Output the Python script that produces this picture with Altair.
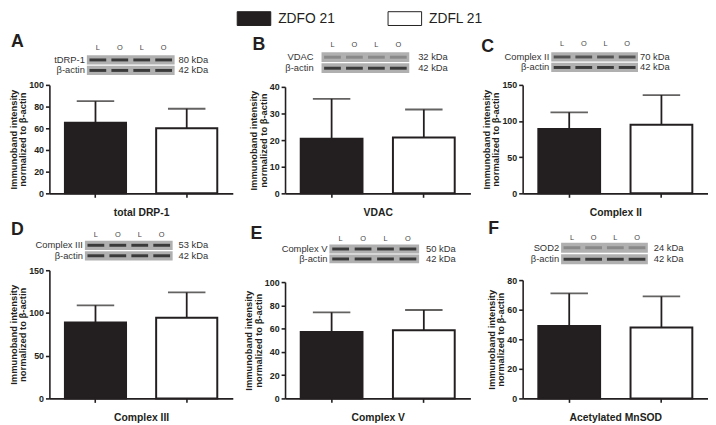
import altair as alt
import pandas as pd

# ---------------- data ----------------
groups = ["ZDFO 21", "ZDFL 21"]
letters = ["A", "B", "C", "D", "E", "F"]
titles = ["total DRP-1", "VDAC", "Complex II", "Complex III", "Complex V", "Acetylated MnSOD"]
proteins = ["tDRP-1", "VDAC", "Complex II", "Complex III", "Complex V", "SOD2"]
kda_protein = ["80 kDa", "32 kDa", "70 kDa", "53 kDa", "50 kDa", "24 kDa"]
actin_name = "β-actin"
kda_actin = "42 kDa"
lane_labels = ["L", "O", "L", "O"]

mean_zdfo = [65, 20.5, 89, 89, 57, 49]
mean_zdfl = [60, 21, 95, 94.5, 58.5, 48]
sem_zdfo = [20, 15, 23, 20, 17, 22]
sem_zdfl = [18, 10.5, 41, 29.5, 17.5, 21]

y_max = [100, 40, 150, 150, 100, 80]
y_step = [20, 10, 50, 50, 20, 20]

# blot band strength for the protein row (actin row always strong)
band_strength = [0.9, 0.3, 0.7, 0.9, 0.9, 0.3]

# ---------------- style / layout ----------------
DARK = "#231f20"
FONT = "Liberation Sans"
WIDTHS = [186, 188, 188]
HEIGHTS = [110, 130]

layout = [
    dict(top=0, bl=38, br=127, rt=-30, rb=-10, ly=-37, lg=2, kg=4, lx=-39, lyy=-43),
    dict(top=2, bl=37, br=126, rt=-33, rb=-12, ly=-40, lg=8, kg=9, lx=-33, lyy=-40),
    dict(top=0, bl=29, br=117, rt=-33, rb=-13, ly=-41, lg=2, kg=2, lx=-42, lyy=-38),
    dict(top=0, bl=36, br=125, rt=-30, rb=-10, ly=-36, lg=2, kg=6, lx=-39, lyy=-41),
    dict(top=12, bl=45, br=136, rt=-26, rb=-7, ly=-32, lg=2, kg=7, lx=-35, lyy=-37),
    dict(top=10, bl=39, br=127, rt=-28, rb=-6, ly=-33, lg=2, kg=6, lx=-35, lyy=-42),
]

legend = alt.Legend(
    orient="none", legendX=200, legendY=-75, direction="horizontal",
    symbolType="M-2.43,-1H2.43V1H-2.43Z", symbolSize=196,
    symbolStrokeColor=DARK, symbolStrokeWidth=1, symbolOpacity=1,
    labelFont=FONT, labelFontSize=14, labelColor=DARK, labelOffset=17,
    columnPadding=51, padding=0,
)


def make_panel(i):
    L = layout[i]
    W = WIDTHS[i % 3]
    H = HEIGHTS[i // 3]
    df = pd.DataFrame({
        "group": groups,
        "mean": [mean_zdfo[i], mean_zdfl[i]],
        "err": [sem_zdfo[i], sem_zdfl[i]],
    })
    xs = alt.Scale(domain=groups, paddingInner=0.33, paddingOuter=0.17)
    xaxis = alt.Axis(labels=False, title=titles[i], bandPosition=0.5, titlePadding=10)
    ys = alt.Scale(domain=[0, y_max[i]], range=[H, L["top"]], nice=False, zero=True)
    yaxis = alt.Axis(
        values=list(range(0, y_max[i] + 1, y_step[i])),
        title=["Immunoband intensity", "normalized to β-actin"],
    )
    base = alt.Chart(df).transform_calculate(upper="datum.mean + datum.err")
    bars = base.mark_bar(stroke=DARK, strokeWidth=2).encode(
        x=alt.X("group:N", scale=xs, axis=xaxis, sort=groups),
        y=alt.Y("mean:Q", scale=ys, axis=yaxis),
        color=alt.Color("group:N", scale=alt.Scale(domain=groups, range=[DARK, "#ffffff"]),
                        legend=legend, title=None),
    )
    rule = base.mark_rule(color=DARK, strokeWidth=1.8).encode(
        x=alt.X("group:N", scale=xs, axis=xaxis, sort=groups),
        y=alt.Y("mean:Q", scale=ys, axis=yaxis),
        y2="upper:Q",
    )
    cap = base.mark_tick(color=DARK, thickness=1.8, size=38, orient="horizontal").encode(
        x=alt.X("group:N", scale=xs, axis=xaxis, sort=groups),
        y=alt.Y("upper:Q", scale=ys, axis=yaxis),
    )
    bar_layer = alt.layer(bars, rule, cap)

    # ---- blot annotation ----
    rows = [proteins[i], actin_name]
    rows_df = pd.DataFrame({"row": rows, "kda": [kda_protein[i], kda_actin]})
    lanes_df = pd.DataFrame({"lane": [1, 2, 3, 4], "label": lane_labels})
    bands_df = pd.DataFrame({
        "lane": [1, 2, 3, 4] * 2,
        "row": [rows[0]] * 4 + [rows[1]] * 4,
        "op": [band_strength[i]] * 4 + [0.9] * 4,
    })
    xb = alt.X("lane:O", scale=alt.Scale(domain=[1, 2, 3, 4], range=[L["bl"], L["br"]],
                                         paddingInner=0, paddingOuter=0), axis=None)
    yb = alt.Y("row:N", scale=alt.Scale(domain=rows, range=[L["rt"], L["rb"]],
                                        paddingInner=0.12, paddingOuter=0), axis=None)
    bg = alt.Chart(rows_df).mark_rect(fill="#b0b0b0").encode(
        y=yb, x=alt.value(L["bl"]), x2=alt.value(L["br"]))
    bands = alt.Chart(bands_df).mark_tick(orient="horizontal", size=17, thickness=3,
                                          color="#2e2e2e").encode(
        x=xb, y=yb, opacity=alt.Opacity("op:Q", scale=None))
    lane_txt = alt.Chart(lanes_df).mark_text(font=FONT, fontSize=7.5, fill="#444444").encode(
        x=xb, y=alt.value(L["ly"]), text="label:N")
    row_txt = alt.Chart(rows_df).mark_text(font=FONT, fontSize=9.5, fill="#333333",
                                           align="right", baseline="middle").encode(
        y=yb, x=alt.value(L["bl"] - L["lg"]), text="row:N")
    kda_txt = alt.Chart(rows_df).mark_text(font=FONT, fontSize=9.5, fill="#333333",
                                           align="left", baseline="middle").encode(
        y=yb, x=alt.value(L["br"] + L["kg"]), text="kda:N")
    letter = alt.Chart(pd.DataFrame({"t": [letters[i]]})).mark_text(
        font=FONT, fontSize=18, fontWeight="bold", fill=DARK, align="left",
        baseline="middle").encode(x=alt.value(L["lx"]), y=alt.value(L["lyy"]), text="t:N")
    blot = alt.layer(bg, bands, lane_txt, row_txt, kda_txt, letter)

    return alt.layer(bar_layer, blot).resolve_scale(
        x="independent", y="independent").properties(width=W, height=H)


panels = [make_panel(i) for i in range(6)]

chart = alt.concat(
    *panels, columns=3, spacing={"row": 78, "column": 53}, bounds="flush", padding=0
).configure(font=FONT).configure_view(strokeWidth=0).configure_axis(
    grid=False, domainColor=DARK, domainWidth=1.6, tickColor=DARK, tickWidth=1.6,
    tickSize=4, labelFont=FONT, labelFontSize=9, labelFontWeight="bold",
    labelColor=DARK, labelPadding=2, titleFont=FONT, titleFontWeight="bold",
    titleColor=DARK,
).configure_axisY(titleFontSize=9.5, titlePadding=1, titleLineHeight=9.5).configure_axisX(
    titleFontSize=10.5)

chart.save("out.html", embed_options={"renderer": "svg", "actions": False})
